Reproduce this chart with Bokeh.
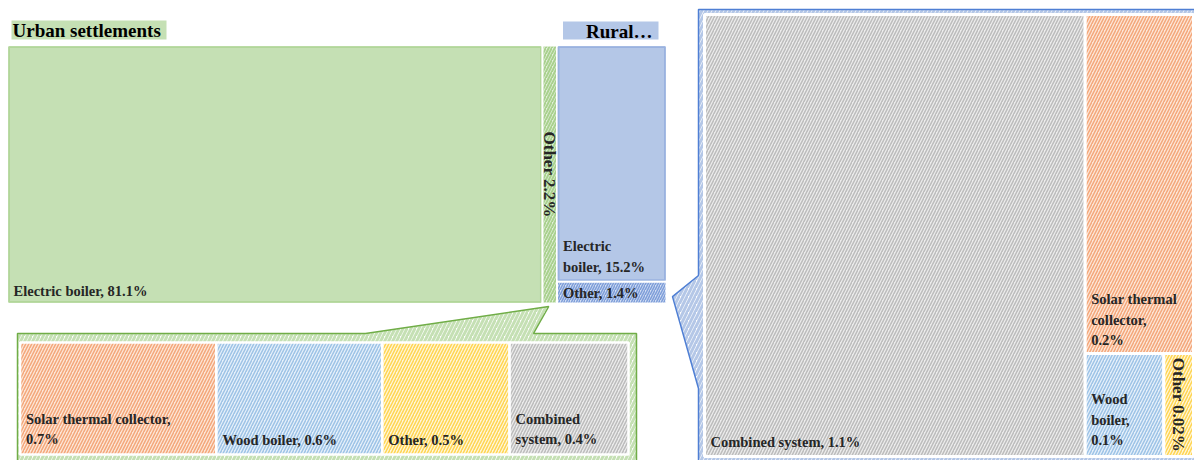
import math
from bokeh.plotting import figure
from bokeh.models import Range1d
from bokeh.embed import file_html
from bokeh.resources import INLINE
from bokeh.core.properties import value

# ---------------- data ----------------
group_names = ["Urban settlements", "Rural…"]
urban_types = ["Electric boiler", "Other"]
urban_share = [81.1, 2.2]
urban_labels = ["Electric boiler, 81.1%", "Other 2.2%"]
rural_types = ["Electric boiler", "Other"]
rural_share = [15.2, 1.4]
rural_labels = ["Electric\nboiler, 15.2%", "Other, 1.4%"]
urban_other_types = ["Solar thermal collector", "Wood boiler", "Other", "Combined system"]
urban_other_share = [0.71, 0.60, 0.46, 0.43]
urban_other_labels = ["Solar thermal collector,\n0.7%", "Wood boiler, 0.6%",
                      "Other, 0.5%", "Combined\nsystem, 0.4%"]
rural_other_types = ["Combined system", "Solar thermal collector", "Wood boiler", "Other"]
rural_other_share = [1.10, 0.24, 0.053, 0.02]
rural_other_labels = ["Combined system, 1.1%", "Solar thermal\ncollector,\n0.2%",
                      "Wood\nboiler,\n0.1%", "Other 0.02%"]

# ---------------- style ----------------
FONT = value("Liberation Serif")
TXT = "#262626"
LBL = 14.5
GREEN, GREEN_D, GREEN_L = "#C5E0B4", "#A9D18E", "#E2EFDA"
BLUE, BLUE_D = "#B4C7E7", "#8FAADC"
type_style = {
    "Solar thermal collector": ("#FCE6D8", "#F4A77A"),
    "Wood boiler": ("#E6F0FA", "#9DC3E6"),
    "Other": ("#FFF6DA", "#FFD551"),
    "Combined system": ("#ECECEC", "#BCBCBC"),
}

p = figure(width=1194, height=460, x_range=Range1d(0, 1194), y_range=Range1d(460, 0),
           output_backend="svg", toolbar_location=None, x_axis_type=None, y_axis_type=None,
           min_border=0, outline_line_color=None, background_fill_color="white")
p.xgrid.visible = False
p.ygrid.visible = False


def slice_x(vals, l, r, t, b):
    tot = sum(vals)
    out, x = [], l
    for v in vals:
        w = (r - l) * v / tot
        out.append((x, x + w, t, b))
        x += w
    return out


def slice_y(vals, l, r, t, b):
    tot = sum(vals)
    out, y = [], t
    for v in vals:
        h = (b - t) * v / tot
        out.append((l, r, y, y + h))
        y += h
    return out


def cell(c, fill, hatch=None, scale=6, weight=1.5, line="white", lw=2):
    l, r, t, b = c
    kw = {}
    if hatch:
        kw = dict(hatch_pattern="/", hatch_color=hatch, hatch_scale=scale, hatch_weight=weight)
    p.quad(left=l, right=r, top=t, bottom=b, fill_color=fill, line_color=line, line_width=lw, **kw)


def border(c, color, inset=1.5):
    l, r, t, b = c
    p.quad(left=l + inset, right=r - inset, top=t + inset, bottom=b - inset,
           fill_color=None, line_color=color, line_width=2, line_alpha=0.7)


def label(c, txt, size=LBL, pad=7, mode="bottom"):
    l, r, t, b = c
    if mode == "bottom":
        y, base = b - pad, "bottom"
    else:
        y, base = (t + b) / 2, "middle"
    p.text(x=[l + 6], y=[y], text=[txt], text_font=FONT, text_font_style="bold",
           text_font_size=f"{size}px", text_color=TXT, text_align="left",
           text_baseline=base, text_line_height=1.3)


def vlabel(c, txt, size=17):
    l, r, t, b = c
    p.text(x=[(l + r) / 2], y=[(t + b) / 2], text=[txt], angle=-math.pi / 2,
           text_font=FONT, text_font_style="bold", text_font_size=f"{size}px",
           text_color=TXT, text_align="center", text_baseline="middle")


# ---------------- main treemap layout ----------------
ML, MR, MT, MB = 7, 666, 45, 303
total = sum(urban_share) + sum(rural_share)
split = ML + (MR - ML) * sum(urban_share) / total
urban_cells = slice_x(urban_share, ML, split, MT, MB)
rural_cells = slice_y(rural_share, split, MR, MT, MB)

# ---------------- callouts ----------------
uo = urban_cells[1]
g_tip = ((uo[0] + uo[1]) / 2 - 1, uo[3] + 3)
GL, GR, GT, GB = 17, 636, 333, 462
p.patch(x=[GL, 365, g_tip[0], 533, GR, GR, GL], y=[GT, GT, g_tip[1], GT, GT, GB, GB],
        fill_color="white", hatch_pattern="/", hatch_color=GREEN, hatch_scale=8,
        hatch_weight=3, line_color="#70AD47", line_width=1.5)

ro = rural_cells[1]
b_tip = (ro[1] + 6, (ro[2] + ro[3]) / 2 + 4)
BL, BR, BT, BB = 698, 1199, 9, 462
p.patch(x=[BL, BR, BR, BL, BL, b_tip[0], BL], y=[BT, BT, BB, BB, 388, b_tip[1], 275],
        fill_color="white", hatch_pattern="/", hatch_color=BLUE, hatch_scale=8,
        hatch_weight=3, line_color="#4F7FD4", line_width=1.5)

# ---------------- main cells ----------------
cell(urban_cells[0], GREEN)
border(urban_cells[0], GREEN_D)
cell(urban_cells[1], GREEN_L, hatch=GREEN_D, scale=6, weight=2)
cell(rural_cells[0], BLUE)
border(rural_cells[0], BLUE_D)
cell(rural_cells[1], "#D3DEF2", hatch="#7F9FDA", scale=5, weight=1.6)

# headers
ug = (ML, split)
p.quad(left=ug[0] + 4, right=ug[0] + 159, top=20, bottom=39, fill_color=GREEN, line_color=None)
p.text(x=[ug[0] + 5], y=[30], text=[group_names[0]], text_font=FONT, text_font_style="bold",
       text_font_size="19px", text_color="black", text_align="left", text_baseline="middle")
rg = (split, MR)
p.quad(left=rg[0] + 6, right=rg[1] - 8, top=21, bottom=39, fill_color=BLUE, line_color=None)
p.text(x=[rg[1] - 14], y=[30.5], text=[group_names[1]], text_font=FONT, text_font_style="bold",
       text_font_size="19px", text_color="black", text_align="right", text_baseline="middle")

label(urban_cells[0], urban_labels[0], pad=5)
vlabel(urban_cells[1], urban_labels[1])
label(rural_cells[0], rural_labels[0])
label(rural_cells[1], rural_labels[1], mode="middle")

# ---------------- urban "Other" breakdown ----------------
gcells = slice_x(urban_other_share, 19.5, 628, 342, 454)
for c, t, lab in zip(gcells, urban_other_types, urban_other_labels):
    f, h = type_style[t]
    cell(c, f, hatch=h, lw=2.5)
    label(c, lab, pad=7)

# ---------------- rural "Other" breakdown ----------------
IL, IR, IT, IB = 704, 1193, 14, 456
v = rural_other_share
left_c, right_col = slice_x([v[0], v[1] + v[2] + v[3]], IL, IR, IT, IB)
solar_c, bottom_row = slice_y([v[1], v[2] + v[3]], *right_col)
wood_c, oth_c = slice_x([v[2], v[3]], *bottom_row)
bcells = [left_c, solar_c, wood_c, oth_c]
for c, t in zip(bcells, rural_other_types):
    f, h = type_style[t]
    cell(c, f, hatch=h, lw=3)
label(bcells[0], rural_other_labels[0], pad=7)
label(bcells[1], rural_other_labels[1], pad=5)
label(bcells[2], rural_other_labels[2], pad=8)
vlabel(bcells[3], rural_other_labels[3])

open("out.html", "w").write(file_html(p, INLINE))
